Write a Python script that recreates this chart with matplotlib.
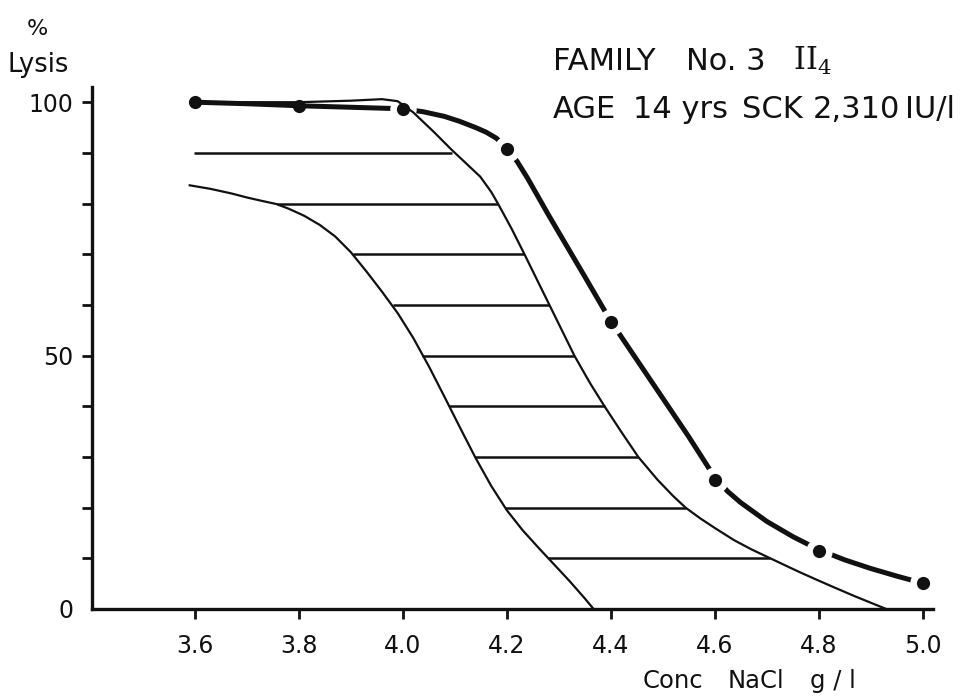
import matplotlib
matplotlib.use('Agg')
import matplotlib.pyplot as plt

plt.rcParams['font.family'] = 'DejaVu Sans'

# measured osmotic fragility, family No.3 II4
conc = [3.6, 3.8, 4.0, 4.2, 4.4, 4.6, 4.8, 5.0]
lysis = [100.0, 99.2, 98.7, 90.7, 56.7, 25.4, 11.4, 5.1]

# hand drawn curve through the measured points
curve_x = [3.6, 3.7, 3.8, 3.9, 4.0, 4.04, 4.08, 4.11, 4.14, 4.16, 4.18, 4.20,
           4.22, 4.24, 4.26, 4.28, 4.30, 4.35, 4.40, 4.45, 4.50, 4.55, 4.575,
           4.60, 4.625, 4.65, 4.70, 4.75, 4.80, 4.85, 4.90, 4.95, 5.0]
curve_y = [100.0, 99.7, 99.3, 99.0, 98.7, 98.1, 97.2, 96.2, 95.0, 94.1, 92.9, 90.9,
           88.3, 85.0, 81.4, 77.8, 74.3, 65.6, 56.8, 49.2, 41.6, 34.0, 30.0,
           26.0, 23.2, 21.0, 17.3, 14.3, 11.7, 9.7, 8.0, 6.5, 5.1]

# normal range, upper boundary
upper_x = [3.6, 3.8, 3.9, 3.96, 3.99, 4.02, 4.06, 4.094, 4.12, 4.149, 4.17, 4.183,
           4.21, 4.234, 4.282, 4.330, 4.36, 4.388, 4.42, 4.453, 4.49, 4.52, 4.544,
           4.572, 4.60, 4.637, 4.67, 4.707, 4.74, 4.765, 4.80, 4.829, 4.87, 4.93]
upper_y = [100.0, 100.0, 100.3, 100.6, 100.2, 98.0, 94.1, 90.6, 88.1, 85.3, 82.3, 80.0,
           74.9, 70.0, 60.0, 50.0, 44.6, 40.0, 35.0, 30.0, 25.5, 22.3, 20.0,
           17.9, 16.0, 13.6, 11.8, 10.0, 8.4, 7.2, 5.6, 4.3, 2.5, 0.0]

# normal range, lower boundary
lower_x = [3.59, 3.63, 3.67, 3.70, 3.73, 3.757, 3.78, 3.81, 3.84, 3.87, 3.90, 3.93,
           3.96, 3.99, 4.02, 4.05, 4.08, 4.11, 4.14, 4.17, 4.20, 4.23, 4.26, 4.29,
           4.32, 4.35, 4.367]
lower_y = [83.6, 82.9, 82.0, 81.2, 80.5, 79.9, 79.0, 77.6, 75.8, 73.5, 70.4, 66.6,
           62.6, 58.4, 53.5, 47.9, 41.9, 35.8, 29.8, 24.3, 19.5, 15.6, 12.2, 8.9,
           5.6, 2.1, 0.0]

# horizontal hatching of the normal range
hatch_y = [90, 80, 70, 60, 50, 40, 30, 20, 10]
hatch_left = [3.598, 3.757, 3.904, 3.981, 4.037, 4.088, 4.138, 4.197, 4.280]
hatch_right = [4.094, 4.183, 4.234, 4.282, 4.330, 4.388, 4.453, 4.544, 4.707]

xticks = [3.6, 3.8, 4.0, 4.2, 4.4, 4.6, 4.8, 5.0]
yticks = [0, 10, 20, 30, 40, 50, 60, 70, 80, 90, 100]
ytick_labels = ['0', '', '', '', '', '50', '', '', '', '', '100']

W, H = 961, 699
ink = '#111111'


def fx(px):
    return px / W


def fy(py):
    return 1 - py / H


fig = plt.figure(figsize=(W / 100, H / 100), dpi=100)
ax = fig.add_axes([fx(92), fy(609), (933 - 92) / W, (609 - 87) / H])

ax.hlines(hatch_y, hatch_left, hatch_right, color=ink, lw=1.8, zorder=3)
ax.plot(upper_x, upper_y, color=ink, lw=1.6, zorder=3)
ax.plot(lower_x, lower_y, color=ink, lw=1.6, zorder=3)

ax.plot(curve_x, curve_y, color=ink, lw=3.6, solid_capstyle='butt',
        solid_joinstyle='round', zorder=2)
# white halo breaks the thick line next to the dots
ax.plot(conc[2:], lysis[2:], 'o', ms=19, color='white', mec='none', zorder=2.5)
ax.plot(conc, lysis, 'o', ms=9.5, color=ink, mec='none', zorder=4)

ax.set_xlim(3.402, 5.02)
ax.set_ylim(0, 103)

for side in ['top', 'right']:
    ax.spines[side].set_visible(False)
for side in ['left', 'bottom']:
    ax.spines[side].set_linewidth(2.4)
    ax.spines[side].set_color(ink)

ax.set_xticks(xticks)
ax.set_xticklabels([f'{v:.1f}' for v in xticks])
ax.set_yticks(yticks)
ax.set_yticklabels(ytick_labels)
ax.tick_params(axis='x', direction='out', length=7.5, width=2, pad=10.5,
               labelsize=17, colors=ink)
ax.tick_params(axis='y', direction='out', length=7.5, width=2, pad=6,
               labelsize=17, colors=ink)
ax.yaxis.get_major_ticks()[0].tick1line.set_visible(False)

# axis titles
fig.text(fx(27), fy(35), '%', fontsize=16, color=ink, va='baseline')
fig.text(fx(8), fy(72), 'Lysis', fontsize=18.5, color=ink, va='baseline')
fig.text(fx(643), fy(688), 'Conc', fontsize=17.5, color=ink, va='baseline')
fig.text(fx(728), fy(688), 'NaCl', fontsize=17.5, color=ink, va='baseline')
fig.text(fx(810), fy(688), 'g / l', fontsize=17.5, color=ink, va='baseline')

# header
fs = 22
fig.text(fx(553), fy(70), 'FAMILY', fontsize=fs, color=ink, va='baseline')
fig.text(fx(686), fy(70), 'No. 3', fontsize=fs, color=ink, va='baseline')
fig.text(fx(793), fy(70), r'$\mathrm{II}_4$', fontsize=fs, color=ink,
         va='baseline', math_fontfamily='dejavuserif')
fig.text(fx(553), fy(118), 'AGE', fontsize=fs, color=ink, va='baseline')
fig.text(fx(633), fy(118), '14 yrs', fontsize=fs, color=ink, va='baseline')
fig.text(fx(742), fy(118), 'SCK', fontsize=fs, color=ink, va='baseline')
fig.text(fx(813), fy(118), '2,310', fontsize=fs, color=ink, va='baseline')
fig.text(fx(905), fy(118), 'IU/l', fontsize=fs, color=ink, va='baseline')

fig.savefig('out.png', dpi=100, facecolor='white')
